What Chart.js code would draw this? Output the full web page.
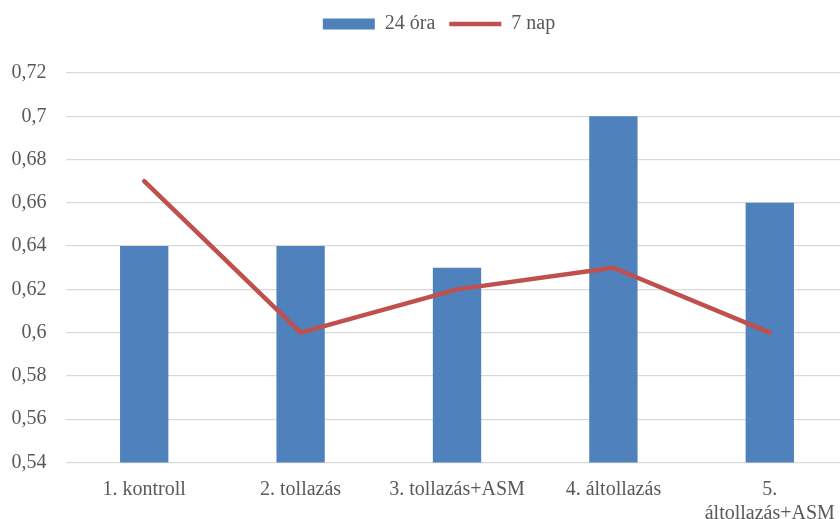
<!DOCTYPE html>
<html>
<head>
<meta charset="utf-8">
<script src="https://cdn.jsdelivr.net/npm/chart.js@4/dist/chart.umd.min.js"></script>
<style>
  html, body { margin: 0; padding: 0; overflow: hidden; background: #fff; width: 840px; height: 519px; }
  canvas { display: block; }
</style>
</head>
<body>
<canvas id="chart" width="878" height="519"></canvas>
<script>
// Categories and series
const categories = ['1. kontroll', '2. tollazás', '3. tollazás+ASM', '4. áltollazás', ['5.', 'áltollazás+ASM']];
const seriesNames = ['24 óra', '7 nap'];
const values24h = [0.64, 0.64, 0.63, 0.70, 0.66];
const values7d = [0.67, 0.60, 0.62, 0.63, 0.60];

// Value axis
const yMin = 0.54;
const yMax = 0.72;
const yStep = 0.02;
const yTickLabels = ['0,54', '0,56', '0,58', '0,6', '0,62', '0,64', '0,66', '0,68', '0,7', '0,72'];

const textColor = '#595959';
const gridColor = '#d9d9d9';
const barColor = '#4f81bd';
const lineColor = '#c0504d';

Chart.defaults.font.family = "'Liberation Serif', 'Times New Roman', serif";
Chart.defaults.font.size = 20;
Chart.defaults.color = textColor;

new Chart(document.getElementById('chart'), {
  data: {
    labels: categories,
    datasets: [
      {
        type: 'line',
        label: seriesNames[1],
        data: values7d,
        borderColor: lineColor,
        backgroundColor: lineColor,
        borderWidth: 4.5,
        borderCapStyle: 'round',
        borderJoinStyle: 'round',
        pointRadius: 0,
        pointHoverRadius: 0,
        pointStyle: 'line',
        tension: 0,
        order: 0
      },
      {
        type: 'bar',
        label: seriesNames[0],
        data: values24h,
        backgroundColor: barColor,
        borderWidth: 0,
        pointStyle: 'rect',
        categoryPercentage: 1,
        barPercentage: 0.309,
        order: 1
      }
    ]
  },
  options: {
    responsive: false,
    animation: false,
    events: [],
    layout: { padding: { top: 0, left: 0, right: 0, bottom: 0 } },
    plugins: {
      tooltip: { enabled: false },
      legend: {
        position: 'top',
        align: 'center',
        reverse: true,
        labels: {
          usePointStyle: true,
          pointStyleWidth: 52,
          boxHeight: 11,
          padding: 14,
          color: textColor,
          font: { size: 20 }
        }
      }
    },
    scales: {
      x: {
        type: 'category',
        position: 'bottom',
        offset: true,
        grid: { display: false, drawTicks: false },
        border: { display: false },
        ticks: { padding: 15, maxRotation: 0, autoSkip: false, color: textColor, font: { size: 20 } },
        afterFit: (s) => { s.height = 56.5; }
      },
      xTopSpace: {
        type: 'category',
        position: 'top',
        display: true,
        grid: { display: false, drawTicks: false },
        border: { display: false },
        ticks: { display: false },
        afterFit: (s) => { s.height = 29; }
      },
      y: {
        type: 'linear',
        position: 'left',
        min: yMin,
        max: yMax,
        grid: { color: gridColor, lineWidth: 1.3, drawTicks: false },
        border: { display: false },
        ticks: {
          stepSize: yStep,
          padding: 19.5,
          color: textColor,
          font: { size: 20 },
          callback: (value, index) => yTickLabels[index]
        },
        afterFit: (s) => { s.width = 66; }
      },
      yRightSpace: {
        type: 'linear',
        position: 'right',
        display: true,
        grid: { display: false, drawTicks: false },
        border: { display: false },
        ticks: { display: false },
        afterFit: (s) => { s.width = 30; }
      }
    }
  }
});
</script>
</body>
</html>
